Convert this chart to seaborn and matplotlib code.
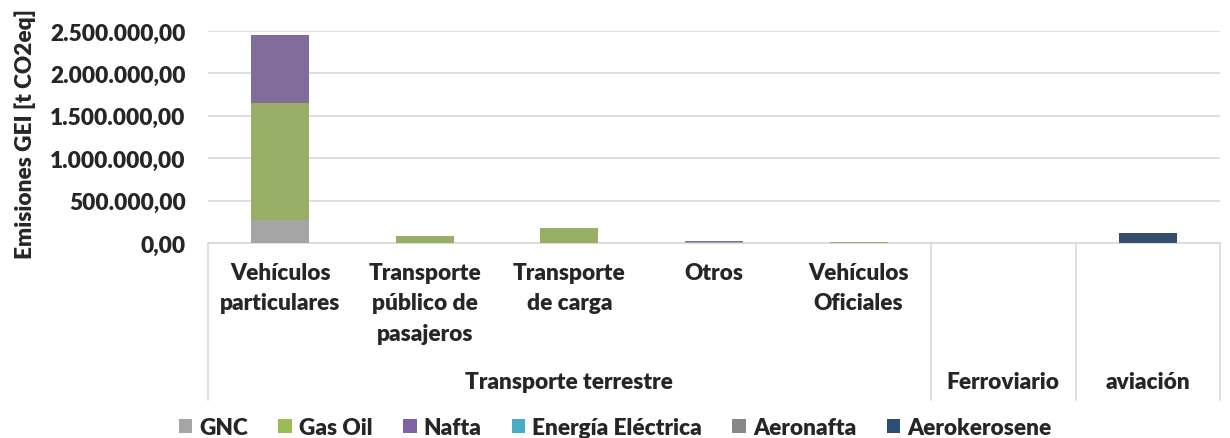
import matplotlib
matplotlib.use("Agg")
import matplotlib.pyplot as plt
import matplotlib.transforms as mtransforms
from matplotlib.patches import Patch
import seaborn as sns
import numpy as np

# ======================================================
# DATA
# ======================================================
subcategorias = ["Vehículos\nparticulares", "Transporte\npúblico de\npasajeros",
                 "Transporte\nde carga", "Otros", "Vehículos\nOficiales", "", ""]
grupos = ["Transporte terrestre", "Ferroviario", "aviación"]
grupo_span = [(0, 4), (5, 5), (6, 6)]

combustibles = ["GNC", "Gas Oil", "Nafta", "Energía Eléctrica", "Aeronafta", "Aerokerosene"]
gnc = [270000, 0, 0, 6000, 4000, 0, 0]
gas_oil = [1380000, 85000, 175000, 8000, 6000, 0, 0]
nafta = [800000, 0, 4000, 6000, 3000, 0, 0]
energia_electrica = [0, 0, 0, 0, 0, 1500, 0]
aeronafta = [0, 0, 0, 0, 0, 0, 2000]
aerokerosene = [0, 0, 0, 0, 0, 0, 118000]
series = [gnc, gas_oil, nafta, energia_electrica, aeronafta, aerokerosene]

colores = ["#A5A5A5", "#9BBB59", "#8064A2", "#4BACC6", "#878787", "#2C4D75"]

# ======================================================
# PLOT
# ======================================================
sns.set_theme(style="white")
plt.rcParams['font.family'] = ['Lato', 'DejaVu Sans']
plt.rcParams['font.weight'] = 'heavy'
FS = 16.3
FW = 'heavy'

fig = plt.figure(figsize=(12.3, 4.39), dpi=100)
ax = fig.add_axes([0.169, 0.4442, 0.823, 0.4829])

x = list(range(len(subcategorias)))
bottom = np.zeros(len(x))
for nombre, vals, c in zip(combustibles, series, colores):
    sns.barplot(x=x, y=vals, bottom=bottom, color=c, width=0.4,
                ax=ax, label=nombre, zorder=3, linewidth=0)
    bottom = bottom + np.array(vals)

ax.set_xlim(-0.5, 6.5)
ax.set_ylim(0, 2500000)
yt = np.arange(0, 2500001, 500000)
ax.set_yticks(yt)
ax.set_yticklabels([f"{v:,.2f}".replace(",", "X").replace(".", ",").replace("X", ".") for v in yt],
                   fontsize=FS, fontweight=FW)
ax.tick_params(axis='y', length=0, pad=16)
ax.grid(axis='y', color="#D9D9D9", linewidth=1.2, zorder=0)
ax.set_xticks([])
for s in ["top", "right", "left"]:
    ax.spines[s].set_visible(False)
ax.spines["bottom"].set_color("#D9D9D9")
ax.spines["bottom"].set_linewidth(1.2)
ax.set_ylabel("Emisiones GEI [t CO2eq]", fontsize=FS, fontweight=FW)
ax.yaxis.set_label_coords(-0.17, 0.52)
if ax.get_legend():
    ax.get_legend().remove()

trans = mtransforms.blended_transform_factory(ax.transData, ax.transAxes)
for xi, lab in zip(x, subcategorias):
    if lab:
        ax.text(xi, -0.09, lab, transform=trans, ha='center', va='top',
                fontsize=FS, fontweight=FW, linespacing=1.55)
for g, (a, b) in zip(grupos, grupo_span):
    ax.text((a + b) / 2, -0.655, g, transform=trans, ha='center', va='center',
            fontsize=FS, fontweight=FW)
for xs in [-0.5, 4.5, 5.5, 6.5]:
    ax.plot([xs, xs], [0, -0.74], transform=trans, color="#D9D9D9",
            linewidth=1.2, clip_on=False)

handles = [Patch(facecolor=c, edgecolor='none') for c in colores]
fig.legend(handles, combustibles, loc='lower center', ncol=6, frameon=False,
           bbox_to_anchor=(0.5, -0.047), handlelength=0.6,
           handleheight=0.6, handletextpad=0.3, columnspacing=1.35,
           prop={'weight': FW, 'size': FS})

plt.savefig("out.png", dpi=100)
